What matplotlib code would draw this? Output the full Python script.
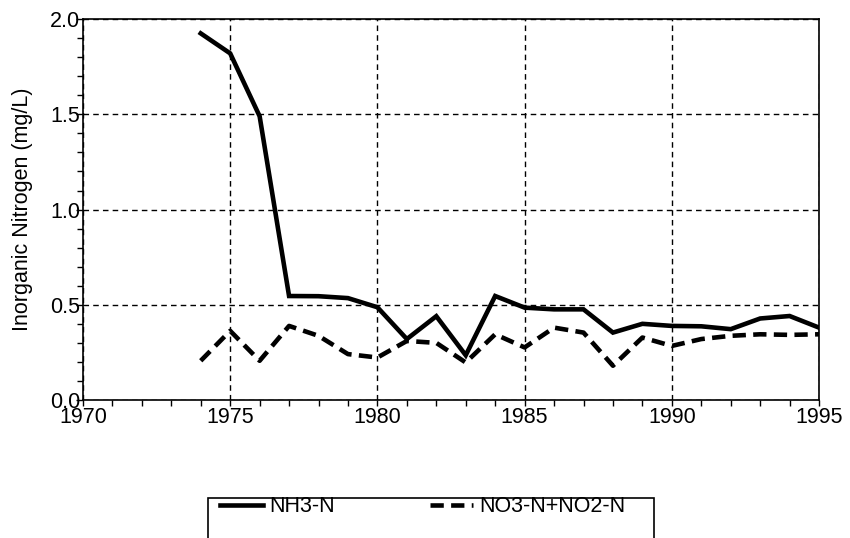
import matplotlib
matplotlib.use("Agg")
import matplotlib.pyplot as plt
from matplotlib.patches import Rectangle
from matplotlib.ticker import MultipleLocator, FormatStrFormatter

plt.rcParams['font.family'] = ['Liberation Sans', 'DejaVu Sans']

# 年份与两组数据
years = [1974, 1975, 1976, 1977, 1978, 1979, 1980, 1981, 1982, 1983, 1984,
         1985, 1986, 1987, 1988, 1989, 1990, 1991, 1992, 1993, 1994, 1995]
nh3 = [1.925, 1.82, 1.49, 0.546, 0.545, 0.535, 0.487, 0.32, 0.44, 0.235, 0.546,
       0.485, 0.476, 0.476, 0.354, 0.40, 0.389, 0.387, 0.372, 0.428, 0.441, 0.38]
no3 = [0.206, 0.363, 0.206, 0.389, 0.337, 0.241, 0.223, 0.31, 0.30, 0.197, 0.345,
       0.276, 0.38, 0.354, 0.18, 0.328, 0.284, 0.32, 0.337, 0.345, 0.342, 0.345]
labels = ['NH3-N', 'NO3-N+NO2-N']

fig = plt.figure(figsize=(8.5, 5.38), dpi=100)
ax = fig.add_axes([0.0976, 0.2565, 0.866, 0.708])

l1, = ax.plot(years, nh3, color='black', lw=3.3, solid_joinstyle='miter',
              label=labels[0])
l2, = ax.plot(years, no3, color='black', lw=3.3, linestyle=(0, (2.9, 1.6)),
              dash_capstyle='butt', label=labels[1])

ax.set_xlim(1970, 1995)
ax.set_ylim(0, 2.0)
ax.xaxis.set_major_locator(MultipleLocator(5))
ax.xaxis.set_minor_locator(MultipleLocator(1))
ax.yaxis.set_major_locator(MultipleLocator(0.5))
ax.yaxis.set_minor_locator(MultipleLocator(0.1))
ax.yaxis.set_major_formatter(FormatStrFormatter('%.1f'))

ax.grid(True, which='major', color='black', lw=1.0, linestyle=(0, (4, 3)))
ax.set_axisbelow(True)

ax.tick_params(axis='both', which='both', direction='out', color='black',
               width=1.0, labelsize=15.5)
ax.tick_params(axis='y', which='major', length=5, pad=-3)
ax.tick_params(axis='y', which='minor', length=4)
ax.tick_params(axis='x', which='both', length=4, pad=1)
for s in ax.spines.values():
    s.set_linewidth(1.2)

ax.set_ylabel('Inorganic Nitrogen (mg/L)', fontsize=15.5)
ax.yaxis.set_label_coords(-0.068, 0.5)

# 图例（下方，框被裁掉一部分）
fig.patches.append(Rectangle((208 / 850, -0.05), (654 - 208) / 850,
                             1 - 498 / 538 + 0.05, transform=fig.transFigure,
                             fill=False, edgecolor='black', lw=1.2))
fig.legend([l1, l2], labels, loc='center left',
           bbox_to_anchor=(220 / 850, 1 - 507 / 538), ncol=2, frameon=False,
           fontsize=15.5, handlelength=2.0, handletextpad=0.3,
           columnspacing=4.4, borderpad=0, borderaxespad=0)

fig.savefig('out.png', dpi=100)
